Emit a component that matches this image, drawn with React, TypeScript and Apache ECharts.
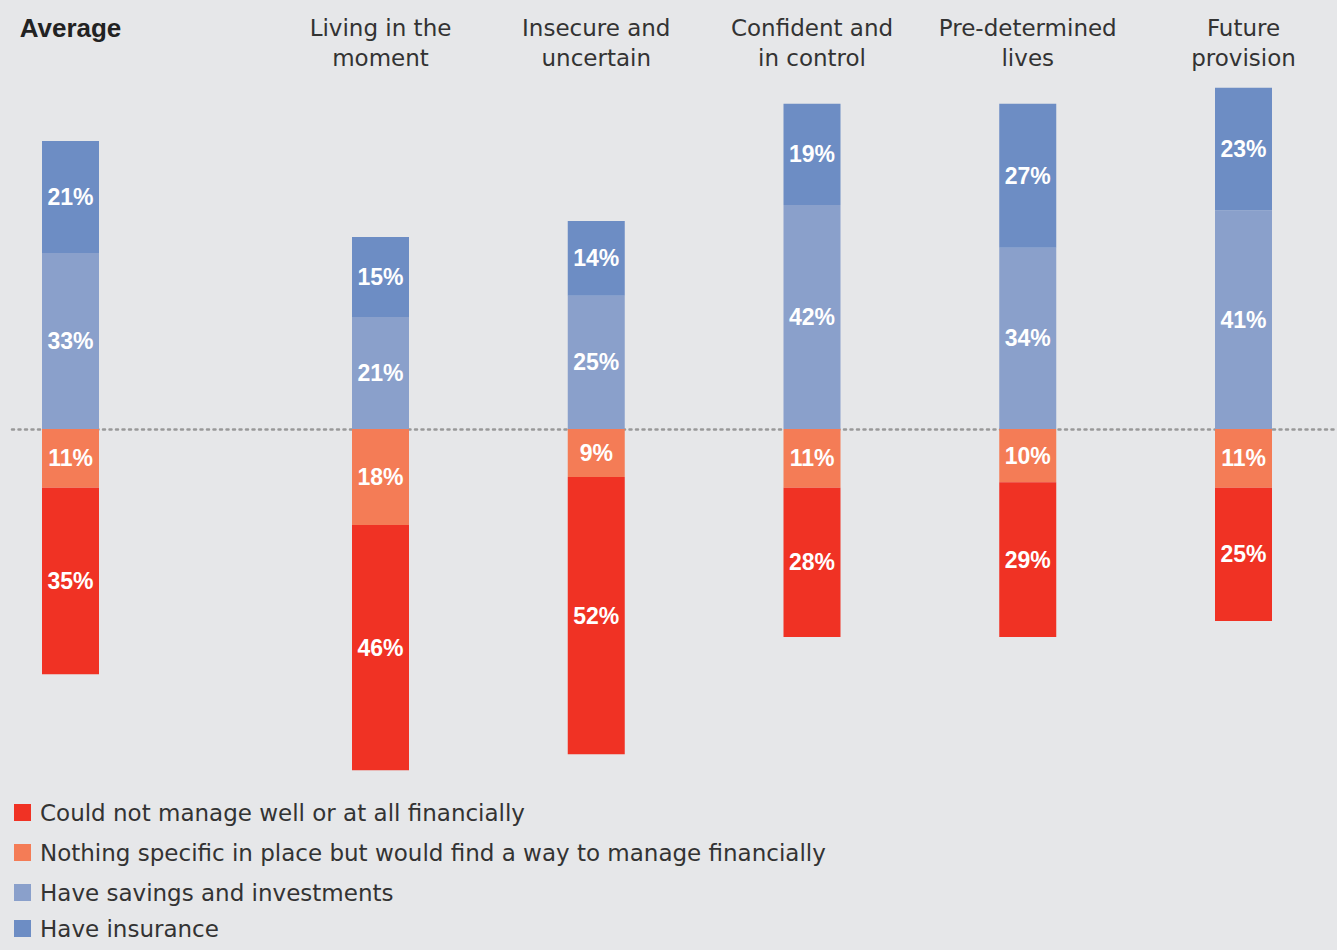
import React, { useEffect, useRef } from "react";
import * as echarts from "echarts";

const avgCategory = ["Average"];
const segCategories = [
  "Living in the\nmoment",
  "Insecure and\nuncertain",
  "Confident and\nin control",
  "Pre-determined\nlives",
  "Future\nprovision",
];
const seriesNames = [
  "Could not manage well or at all financially",
  "Nothing specific in place but would find a way to manage financially",
  "Have savings and investments",
  "Have insurance",
];
// Average values
const avgCouldNot = [35];
const avgNothing = [11];
const avgSavings = [33];
const avgInsurance = [21];
// Segment values
const segCouldNot = [46, 52, 28, 29, 25];
const segNothing = [18, 9, 11, 10, 11];
const segSavings = [21, 25, 42, 34, 41];
const segInsurance = [15, 14, 19, 27, 23];

const colors = ["#f03224", "#f47c56", "#8aa0cb", "#6d8dc4"];
const FONT = "Liberation Sans, Arial, sans-serif";
const LIGHT_FONT = "DejaVu Sans, sans-serif";

export default function App() {
  const ref = useRef<HTMLDivElement>(null);
  useEffect(() => {
    if (!ref.current) return;
    const chart = echarts.init(ref.current, undefined, { renderer: "svg" });
    const yBase = {
      type: "value" as const,
      min: -70,
      max: 80,
      show: false,
      splitLine: { show: false },
    };
    const label = {
      show: true,
      position: "inside" as const,
      color: "#ffffff",
      fontWeight: "bold" as const,
      fontSize: 23,
      fontFamily: FONT,
      formatter: (p: any) => Math.abs(p.value) + "%",
    };
    // stacking order: series nearest to zero first
    const stackOrder = [1, 0, 2, 3];
    const makeSeries = (gi: number, vals: number[][]) =>
      stackOrder.map((i) => ({
        name: seriesNames[i],
        type: "bar" as const,
        stack: "s" + gi,
        xAxisIndex: gi,
        yAxisIndex: gi,
        barWidth: 57,
        z: 5,
        itemStyle: { color: colors[i] },
        label,
        data: i < 2 ? vals[i].map((x) => -x) : vals[i],
      }));
    const xCat = (data: string[], bold: boolean, gap: boolean) => ({
      type: "category" as const,
      data,
      boundaryGap: gap,
      position: "top" as const,
      axisLine: { show: false, onZero: false },
      axisTick: { show: false },
      axisLabel: {
        inside: true,
        margin: 11,
        fontSize: bold ? 26 : 23,
        lineHeight: 30,
        color: bold ? "#222222" : "#333333",
        fontWeight: bold ? ("bold" as const) : ("normal" as const),
        fontFamily: bold ? FONT : LIGHT_FONT,
        interval: 0,
      },
      splitLine: { show: false },
    });
    const legendCenters = [813, 853, 893, 929];
    chart.setOption({
      animation: false,
      backgroundColor: "#e6e7e9",
      grid: [
        { left: 12, width: 117, top: 2.333, height: 800 },
        { left: 380.5, width: 863, top: 2.333, height: 800 },
        { left: 12, right: 0, top: 2.333, height: 800, z: 0 },
      ],
      xAxis: [
        { ...xCat(avgCategory, true, true), gridIndex: 0 },
        { ...xCat(segCategories, false, false), gridIndex: 1 },
        {
          type: "category",
          gridIndex: 2,
          data: [""],
          z: 0,
          axisLine: {
            show: true,
            onZero: true,
            lineStyle: { color: "#999999", width: 2.5, type: [2, 4.5] },
          },
          axisTick: { show: false },
          axisLabel: { show: false },
          splitLine: { show: false },
        },
      ],
      yAxis: [
        { ...yBase, gridIndex: 0 },
        { ...yBase, gridIndex: 1 },
        { ...yBase, gridIndex: 2 },
      ],
      legend: seriesNames.map((n, i) => ({
        orient: "vertical",
        left: 9,
        top: legendCenters[i] - 17,
        itemWidth: 17,
        itemHeight: 17,
        itemGap: 8,
        icon: "rect",
        data: [n],
        textStyle: {
          fontSize: 23,
          color: "#333333",
          fontFamily: LIGHT_FONT,
          padding: [0, 0, 0, 4],
        },
        selectedMode: false,
      })),
      series: [
        ...makeSeries(0, [avgCouldNot, avgNothing, avgSavings, avgInsurance]),
        ...makeSeries(1, [segCouldNot, segNothing, segSavings, segInsurance]),
      ],
    });
    return () => chart.dispose();
  }, []);
  return (
    <div
      ref={ref}
      style={{ position: "fixed", left: 0, top: 0, width: 1337, height: 950 }}
    />
  );
}
